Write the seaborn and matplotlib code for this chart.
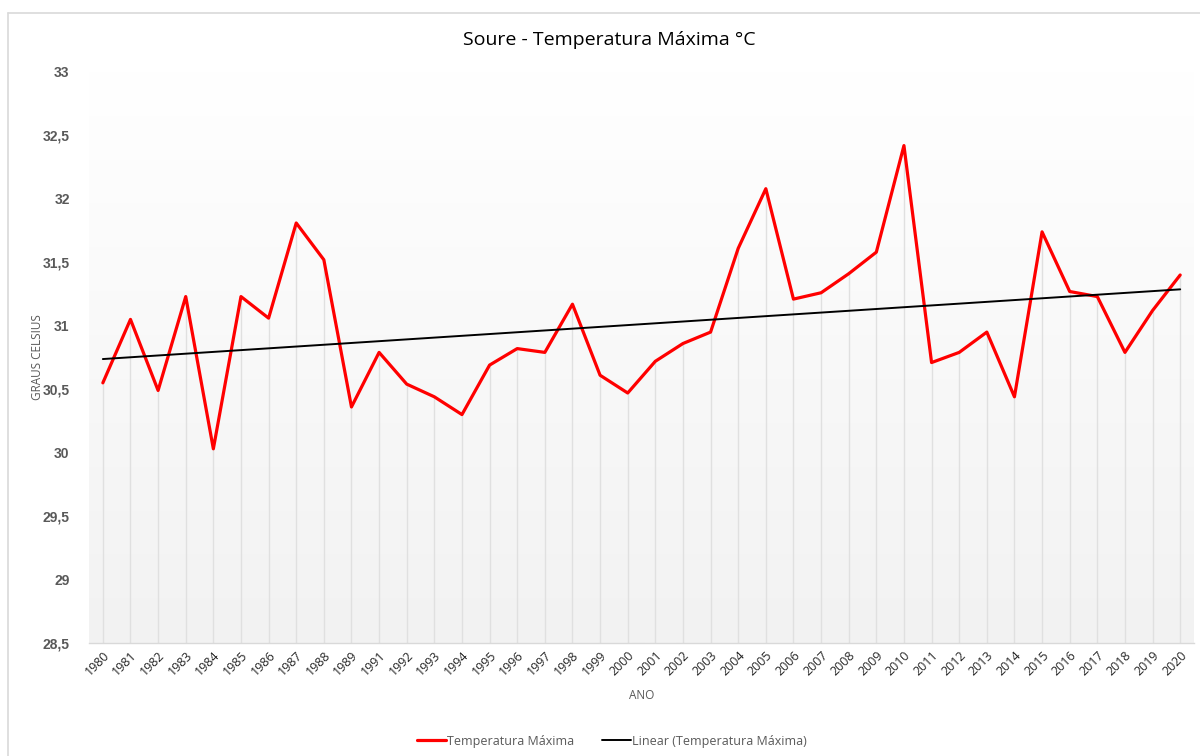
import numpy as np
import pandas as pd
import matplotlib
matplotlib.use("Agg")
import matplotlib.pyplot as plt
from matplotlib.lines import Line2D
from matplotlib.colors import LinearSegmentedColormap
from matplotlib.ticker import FuncFormatter
import seaborn as sns

years = ["1980", "1981", "1982", "1983", "1984", "1985", "1986", "1987", "1988", "1989",
         "1991", "1992", "1993", "1994", "1995", "1996", "1997", "1998", "1999", "2000",
         "2001", "2002", "2003", "2004", "2005", "2006", "2007", "2008", "2009", "2010",
         "2011", "2012", "2013", "2014", "2015", "2016", "2017", "2018", "2019", "2020"]
temp_max = [30.55, 31.05, 30.49, 31.23, 30.03, 31.23, 31.06, 31.81, 31.52, 30.36,
            30.79, 30.54, 30.44, 30.30, 30.69, 30.82, 30.79, 31.17, 30.61, 30.47,
            30.72, 30.86, 30.95, 31.61, 32.08, 31.21, 31.26, 31.41, 31.58, 32.42,
            30.71, 30.79, 30.95, 30.44, 31.74, 31.27, 31.23, 30.79, 31.12, 31.40]
y_ticks = [28.5, 29, 29.5, 30, 30.5, 31, 31.5, 32, 32.5, 33]

sns.set_theme(style="white")
plt.rcParams['font.family'] = ['Open Sans', 'DejaVu Sans']

idx = np.arange(len(years))
df = pd.DataFrame({"pos": idx, "ano": years, "temp": temp_max})
slope, intercept = np.polyfit(idx, temp_max, 1)
df["trend"] = intercept + slope * idx

fig = plt.figure(figsize=(12, 7.56), dpi=100)
ax = fig.add_axes([0.0742, 0.1495, 0.9208, 0.7553])

ymin, ymax = y_ticks[0], y_ticks[-1]
xmin, xmax = -0.5, len(years) - 0.5

# gradient background: white at top, light grey at bottom
cmap = LinearSegmentedColormap.from_list("bg", ["#ffffff", "#f2f2f2"])
grad = np.linspace(0, 1, 256).reshape(-1, 1)
ax.imshow(grad, extent=[xmin, xmax, ymin, ymax], aspect="auto", cmap=cmap,
          zorder=0, origin="upper")

# drop lines
ax.vlines(df["pos"], ymin, df["temp"], color="#e0e0e0", lw=1.0, zorder=1)

sns.lineplot(data=df, x="pos", y="temp", ax=ax, color="#ff0000", lw=2.3,
             label="Temperatura Máxima", zorder=3)
sns.lineplot(data=df, x="pos", y="trend", ax=ax, color="#000000", lw=1.4,
             label="Linear (Temperatura Máxima)", zorder=4)

ax.set_xlim(xmin, xmax)
ax.set_ylim(ymin, ymax)
ax.set_yticks(y_ticks)
ax.yaxis.set_major_formatter(FuncFormatter(lambda v, p: (f"{v:g}").replace(".", ",")))
ax.set_xticks(idx)
ax.set_xticklabels(years, rotation=45, ha="right", rotation_mode="anchor",
                   fontsize=9, color="#262626")
for lab in ax.get_yticklabels():
    lab.set_fontfamily(["Liberation Sans", "DejaVu Sans"])
    lab.set_fontweight("bold")
    lab.set_fontsize(10)
    lab.set_color("#595959")
ax.tick_params(axis="y", length=0, pad=14)
ax.tick_params(axis="x", length=0, pad=4)

for s in ["top", "right", "left"]:
    ax.spines[s].set_visible(False)
ax.spines["bottom"].set_color("#d9d9d9")
ax.spines["bottom"].set_linewidth(1.0)
ax.grid(False)

ax.set_xlabel("ANO", fontsize=8.5, color="#595959", labelpad=8)
ax.set_ylabel("GRAUS CELSIUS", fontsize=8.5, color="#595959", labelpad=-1)

fig.text(0.508, 0.947, "Soure - Temperatura Máxima °C", ha="center", va="center",
         fontsize=14, color="#000000")

leg = ax.legend(loc="center", bbox_to_anchor=(0.51, 0.0197), bbox_transform=fig.transFigure,
                ncol=2, frameon=False, fontsize=9, handlelength=2.3, handletextpad=0.1,
                columnspacing=2.2)
for t in leg.get_texts():
    t.set_color("#595959")

# outer chart frame
fig.add_artist(Line2D([0.0067, 0.0067], [0.0, 0.983], color="#d9d9d9", lw=1.2,
                      transform=fig.transFigure))
fig.add_artist(Line2D([0.0067, 1.0], [0.983, 0.983], color="#d9d9d9", lw=1.2,
                      transform=fig.transFigure))

fig.savefig("out.png", dpi=100)
